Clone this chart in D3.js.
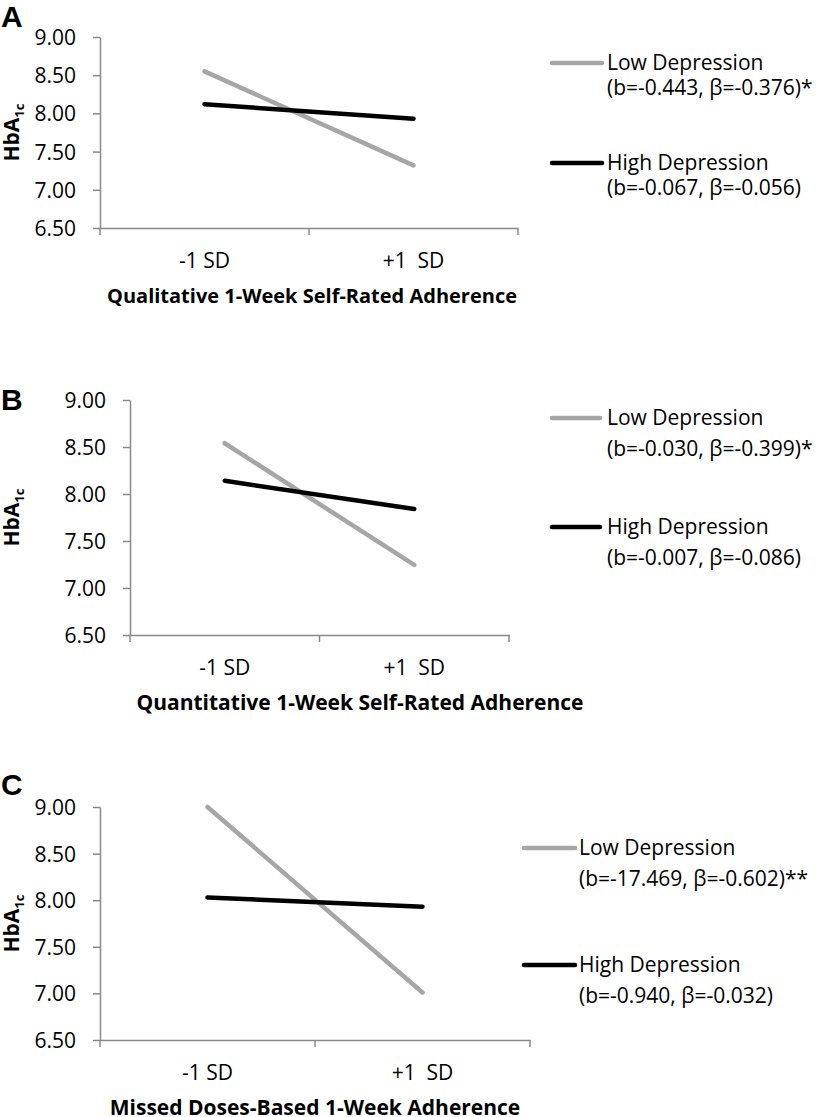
<!DOCTYPE html>
<html>
<head>
<meta charset="utf-8">
<script src="https://cdn.jsdelivr.net/npm/d3@7"></script>
<style>
  html, body { margin: 0; padding: 0; background: #fff; }
  svg { display: block; }
  text { font-family: "Open Sans", "DejaVu Sans", sans-serif; fill: #000; }
</style>
</head>
<body>
<svg id="chart" width="827" height="1117"></svg>
<script>
// ---- data ----
const categories = ["-1 SD", "+1  SD"];
const yTickValues = [6.5, 7.0, 7.5, 8.0, 8.5, 9.0];
const panelLetters = ["A", "B", "C"];
const xTitles = [
  "Qualitative 1-Week Self-Rated Adherence",
  "Quantitative 1-Week Self-Rated Adherence",
  "Missed Doses-Based 1-Week Adherence"
];
const seriesNames = ["Low Depression", "High Depression"];
const lowDepression = [[8.55, 7.32], [8.54, 7.245], [9.00, 7.01]];
const highDepression = [[8.12, 7.93], [8.14, 7.84], [8.03, 7.93]];
const lowStats = ["(b=-0.443, \u03b2=-0.376)*", "(b=-0.030, \u03b2=-0.399)*", "(b=-17.469, \u03b2=-0.602)**"];
const highStats = ["(b=-0.067, \u03b2=-0.056)", "(b=-0.007, \u03b2=-0.086)", "(b=-0.940, \u03b2=-0.032)"];
const yDomain = [6.5, 9.0];

// ---- layout ----
const layout = [
  { x0: 100, x1: 518, yTop: 37, yBot: 228, letterY: 27, titleX: 312, titleSize: 20,
    legX0: 552, legX1: 602, legText: 607, legLowY: 63, legHighY: 163, lineGap: 25 },
  { x0: 130, x1: 509, yTop: 400, yBot: 635, letterY: 410, titleX: 360, titleSize: 21,
    legX0: 552, legX1: 600, legText: 607, legLowY: 418, legHighY: 527, lineGap: 31 },
  { x0: 100, x1: 530, yTop: 807, yBot: 1040, letterY: 795, titleX: 315, titleSize: 21,
    legX0: 524, legX1: 575, legText: 579, legLowY: 848, legHighY: 965, lineGap: 31 }
];
const colors = { low: "#a6a6a6", high: "#000000", axis: "#898989" };
const svg = d3.select("#chart");

layout.forEach((L, i) => {
  const g = svg.append("g");
  const x = d3.scaleBand().domain(categories).range([L.x0, L.x1]).padding(0);
  const y = d3.scaleLinear().domain(yDomain).range([L.yBot, L.yTop]);

  // panel letter
  g.append("text").attr("x", 1).attr("y", L.letterY)
    .style("font-family", "'Liberation Sans', Arial, sans-serif")
    .style("font-weight", "bold").style("font-size", "30px")
    .text(panelLetters[i]);

  // y axis
  const yAxis = g.append("g").attr("transform", `translate(${L.x0},0)`)
    .call(d3.axisLeft(y).tickValues(yTickValues).tickFormat(d3.format(".2f"))
      .tickSize(7).tickSizeOuter(0).tickPadding(17));
  yAxis.select(".domain").attr("stroke", colors.axis).attr("stroke-width", 1.5);
  yAxis.selectAll(".tick line").attr("stroke", colors.axis).attr("stroke-width", 1.5);
  yAxis.selectAll(".tick text").style("font-size", "21px").attr("dy", "0.36em")
    .style("font-family", "'Open Sans', sans-serif").attr("fill", "#000");

  // x axis
  const xAxis = g.append("g").attr("transform", `translate(0,${L.yBot})`)
    .call(d3.axisBottom(x).tickSize(0).tickSizeOuter(0).tickPadding(25));
  xAxis.select(".domain").attr("stroke", colors.axis).attr("stroke-width", 1.5);
  xAxis.selectAll(".tick text").style("font-size", "21px")
    .style("font-family", "'Open Sans', sans-serif").attr("fill", "#000")
    .attr("dy", "0.71em").style("white-space", "pre");
  // band boundary ticks
  const bounds = categories.map(c => x(c)).concat([x.range()[1]]);
  g.append("g").selectAll("line").data(bounds).join("line")
    .attr("x1", d => d).attr("x2", d => d)
    .attr("y1", L.yBot).attr("y2", L.yBot + 7)
    .attr("stroke", colors.axis).attr("stroke-width", 1.5);

  // x title
  g.append("text").attr("x", L.titleX).attr("y", L.yBot + 75)
    .attr("text-anchor", "middle")
    .style("font-weight", "bold").style("font-size", L.titleSize + "px")
    .text(xTitles[i]);

  // y title
  const yt = g.append("text")
    .attr("transform", `translate(19,${(L.yTop + L.yBot) / 2}) rotate(-90)`)
    .attr("text-anchor", "middle")
    .style("font-weight", "bold").style("font-size", "21px");
  yt.append("tspan").text("HbA");
  yt.append("tspan").attr("dy", "5").style("font-size", "13px").text("1c");

  // lines
  const line = d3.line().x((d, j) => x(categories[j]) + x.bandwidth() / 2).y(d => y(d));
  const series = [
    { vals: lowDepression[i], color: colors.low },
    { vals: highDepression[i], color: colors.high }
  ];
  g.append("g").selectAll("path").data(series).join("path")
    .attr("d", d => line(d.vals))
    .attr("fill", "none").attr("stroke", d => d.color)
    .attr("stroke-width", 4.5).attr("stroke-linecap", "round");

  // legend
  const leg = [
    { name: seriesNames[0], stat: lowStats[i], color: colors.low, y: L.legLowY },
    { name: seriesNames[1], stat: highStats[i], color: colors.high, y: L.legHighY }
  ];
  const lg = g.append("g").selectAll("g").data(leg).join("g");
  lg.append("line").attr("x1", L.legX0).attr("x2", L.legX1)
    .attr("y1", d => d.y).attr("y2", d => d.y)
    .attr("stroke", d => d.color).attr("stroke-width", 4.5).attr("stroke-linecap", "round");
  lg.append("text").attr("x", L.legText).attr("y", d => d.y + 7)
    .style("font-size", "21px").text(d => d.name);
  lg.append("text").attr("x", L.legText).attr("y", d => d.y + 7 + L.lineGap)
    .style("font-size", "21px").text(d => d.stat);
});
</script>
</body>
</html>
